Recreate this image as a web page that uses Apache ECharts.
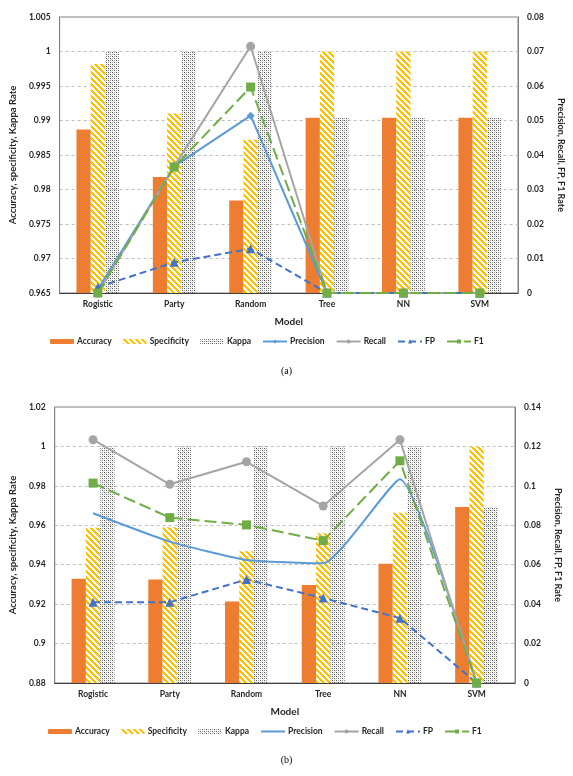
<!DOCTYPE html>
<html>
<head>
<meta charset="utf-8">
<script src="https://cdn.jsdelivr.net/npm/echarts@6/dist/echarts.min.js"></script>
<style>
  html, body { margin: 0; padding: 0; background: #fff; }
  #chart { width: 573px; height: 776px; }
</style>
</head>
<body>
<div id="chart"></div>
<script>
const categories = ['Rogistic', 'Party', 'Random', 'Tree', 'NN', 'SVM']
const legendNames = ['Accuracy', 'Specificity', 'Kappa', 'Precision', 'Recall', 'FP', 'F1']

// (a)
const accuracyA = [0.9887, 0.9818, 0.9784, 0.9904, 0.9904, 0.9904]
const specificityA = [0.9982, 0.991, 0.9872, 1.0, 1.0, 1.0]
const kappaA = [1.0, 1.0, 1.0, 0.9904, 0.9904, 0.9904]
const precisionA = [0.001, 0.0367, 0.0514, 0, 0, 0]
const recallA = [0, 0.0367, 0.0715, 0, 0, 0]
const fpA = [0.0017, 0.0089, 0.0128, 0, 0, 0]
const f1A = [0, 0.0365, 0.0597, 0, 0, 0]

// (b)
const accuracyB = [0.9329, 0.9325, 0.9214, 0.9297, 0.9405, 0.9693]
const specificityB = [0.9588, 0.959, 0.9468, 0.9559, 0.9664, 1.0]
const kappaB = [1.0, 1.0, 1.0, 1.0, 1.0, 0.9691]
const precisionB = [0.0861, 0.0717, 0.0624, 0.0607, 0.1034, 0]
const recallB = [0.1234, 0.1008, 0.1122, 0.0898, 0.1234, 0]
const fpB = [0.041, 0.041, 0.0525, 0.0431, 0.0329, 0]
const f1B = [0.1014, 0.0839, 0.0802, 0.0722, 0.1127, 0]

const font = 'Lato, "Open Sans", sans-serif'

// yellow diagonal stripes
const makeStripes = () => {
  const c = document.createElement('canvas')
  c.width = 6
  c.height = 6
  const ctx = c.getContext('2d')
  const img = ctx.createImageData(6, 6)
  for (let y = 0; y < 6; y++) {
    for (let x = 0; x < 6; x++) {
      const i = (y * 6 + x) * 4
      const on = ((x - y) % 6 + 6) % 6 < 3
      img.data[i] = 255
      img.data[i + 1] = on ? 192 : 255
      img.data[i + 2] = on ? 0 : 255
      img.data[i + 3] = 255
    }
  }
  ctx.putImageData(img, 0, 0)
  return c
}
// grey stipple
const makeDots = () => {
  const c = document.createElement('canvas')
  c.width = 4
  c.height = 4
  const ctx = c.getContext('2d')
  ctx.fillStyle = '#555'
  ctx.fillRect(0, 0, 1, 1)
  ctx.fillRect(2, 2, 1, 1)
  ctx.fillStyle = '#999'
  ctx.fillRect(2, 0, 1, 1)
  ctx.fillRect(0, 2, 1, 1)
  ctx.fillStyle = '#ddd'
  ctx.fillRect(1, 1, 1, 1)
  ctx.fillRect(3, 3, 1, 1)
  return c
}
const stripes = { image: makeStripes(), repeat: 'repeat' }
const dots = { image: makeDots(), repeat: 'repeat' }

const labelStyle = { fontFamily: font, fontWeight: 'bold', fontSize: 8.5, color: '#262626' }

const makeX = (gridIndex) => ({
  type: 'category',
  gridIndex,
  data: categories,
  name: 'Model',
  nameLocation: 'middle',
  nameGap: 24,
  nameTextStyle: { fontFamily: font, fontWeight: 'bold', fontSize: 10, color: '#262626' },
  axisTick: { show: false },
  axisLine: { lineStyle: { color: '#404040', width: 1.2 } },
  axisLabel: Object.assign({ margin: 7 }, labelStyle)
})
const makeLeftY = (gridIndex, min, max, interval) => ({
  type: 'value',
  gridIndex,
  min,
  max,
  interval,
  position: 'left',
  name: 'Accuracy, specificity, Kappa Rate',
  nameLocation: 'middle',
  nameGap: 34,
  nameTextStyle: { fontFamily: font, fontWeight: 'bold', fontSize: 9.5, color: '#262626' },
  axisLine: { show: true, lineStyle: { color: '#808080' } },
  axisTick: { show: false },
  axisLabel: Object.assign({ margin: 9 }, labelStyle),
  splitLine: { show: true, lineStyle: { color: '#bfbfbf', type: [3, 3] } }
})
const makeRightY = (gridIndex, min, max, interval) => ({
  type: 'value',
  gridIndex,
  min,
  max,
  interval,
  position: 'right',
  name: 'Precision, Recall, FP, F1 Rate',
  nameLocation: 'middle',
  nameRotate: -90,
  nameGap: 38,
  nameTextStyle: { fontFamily: font, fontWeight: 'bold', fontSize: 9, color: '#262626' },
  axisLine: { show: true, lineStyle: { color: '#808080' } },
  axisTick: { show: false },
  axisLabel: Object.assign({ margin: 9 }, labelStyle),
  splitLine: { show: false }
})

// series in (b) get a suffix so each legend picks its own icons
const makeSeries = (g, suffix, acc, spec, kap, prec, rec, fp, f1, smoothPrec) => {
  const xi = g
  const yl = g * 2
  const yr = g * 2 + 1
  const bar = (name, data, color) => ({
    name: name + suffix,
    type: 'bar',
    xAxisIndex: xi,
    yAxisIndex: yl,
    data,
    barGap: '0%',
    barCategoryGap: '44%',
    itemStyle: { color },
    z: 2
  })
  const line = (name, data, color, symbol, size, type, extra) => Object.assign({
    name: name + suffix,
    type: 'line',
    xAxisIndex: xi,
    yAxisIndex: yr,
    data,
    symbol,
    symbolSize: size,
    itemStyle: { color },
    lineStyle: { color, width: 2, type },
    z: 5
  }, extra || {})
  return [
    bar('Accuracy', acc, '#ED7D31'),
    bar('Specificity', spec, stripes),
    bar('Kappa', kap, dots),
    smoothPrec
      ? line('Precision', prec, '#5B9BD5', 'none', 0, 'solid', { smooth: 0.15 })
      : line('Precision', prec, '#5B9BD5', 'diamond', 8, 'solid'),
    line('Recall', rec, '#A5A5A5', 'circle', 9, 'solid'),
    line('FP', fp, '#4472C4', 'triangle', 9, [7, 4]),
    line('F1', f1, '#70AD47', 'rect', 9, [12, 5])
  ]
}

const makeLegend = (top, left, suffix, plainPrecision) => ({
  top,
  left,
  itemWidth: 24,
  itemHeight: 5,
  itemGap: 11,
  data: legendNames.map(n => {
    if (plainPrecision && n === 'Precision') {
      return { name: n + suffix, itemStyle: { opacity: 0 } }
    }
    return n + suffix
  }),
  formatter: (name) => name.replace(suffix, ''),
  textStyle: { fontFamily: font, fontWeight: 'bold', fontSize: 8.5, color: '#262626', padding: [0, 0, 0, -2] }
})

const chart = echarts.init(document.getElementById('chart'))
const option = {
  animation: false,
  backgroundColor: '#fff',
  title: [
    { text: '(a)', left: 'center', top: 361, textStyle: { fontFamily: '"Liberation Serif", serif', fontWeight: 'normal', fontSize: 10, color: '#000' } },
    { text: '(b)', left: 'center', top: 750, textStyle: { fontFamily: '"Liberation Serif", serif', fontWeight: 'normal', fontSize: 10, color: '#000' } }
  ],
  legend: [
    makeLegend(332, 45, ' ', false),
    makeLegend(722, 43, ' (b)', true)
  ],
  grid: [
    { left: 47, top: 17, width: 472, height: 276, show: true, borderColor: '#808080', borderWidth: 1 },
    { left: 43, top: 407, width: 472, height: 276, show: true, borderColor: '#808080', borderWidth: 1 }
  ],
  xAxis: [makeX(0), makeX(1)],
  yAxis: [
    makeLeftY(0, 0.965, 1.005, 0.005),
    makeRightY(0, 0, 0.08, 0.01),
    makeLeftY(1, 0.88, 1.02, 0.02),
    makeRightY(1, 0, 0.14, 0.02)
  ],
  series: [
    ...makeSeries(0, ' ', accuracyA, specificityA, kappaA, precisionA, recallA, fpA, f1A, false),
    ...makeSeries(1, ' (b)', accuracyB, specificityB, kappaB, precisionB, recallB, fpB, f1B, true)
  ]
}
option && chart.setOption(option)
</script>
</body>
</html>
